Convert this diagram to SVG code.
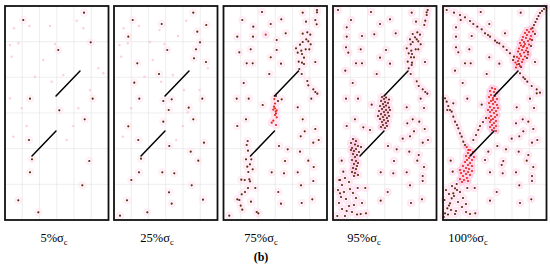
<svg xmlns="http://www.w3.org/2000/svg" xmlns:xlink="http://www.w3.org/1999/xlink" width="550" height="273" viewBox="0 0 550 273">
<style>
.frame{fill:none;stroke:#111;stroke-width:1.8}
.grid{fill:none;stroke:#e2e2e2;stroke-width:0.6}
.crack{fill:none;stroke:#000;stroke-width:1.5;stroke-linecap:round}
.halo{fill:#ffe0f0;stroke:#ffe0f0;stroke-width:6;opacity:0.8}
.halo2{fill:#ffc2e2;stroke:#ffc2e2;stroke-width:5;opacity:0.7}
.brown{fill:#5a2c12}
.red{fill:#e5261b}
.spk{fill:#ffb8e2;opacity:0.7}
.lbl{font-family:"Liberation Serif","Times New Roman",serif;font-size:12.5px;fill:#000;text-anchor:middle}
.sub{font-size:8.5px}
.cap{font-family:"Liberation Serif","Times New Roman",serif;font-size:12px;font-weight:bold;fill:#000;text-anchor:middle}
</style>
<defs>
<path id="gridp" class="grid" d="M17.25,0V214M34.5,0V214M51.75,0V214M69,0V214M86.25,0V214M0,35.67H103.5M0,71.33H103.5M0,107H103.5M0,142.67H103.5M0,178.33H103.5"/>
<path id="crk" class="crack" d="M75,65L51,90M51,125L27,150"/>
<g id="p1b">
<circle cx="84" cy="12.7" r="1.1"/><circle cx="23.3" cy="20" r="1.1"/><circle cx="90.7" cy="42.3" r="1.1"/><circle cx="58.3" cy="50" r="1.1"/><circle cx="30" cy="98.7" r="1.1"/><circle cx="92.7" cy="98.7" r="1.1"/><circle cx="59.3" cy="110.3" r="1.1"/><circle cx="84.7" cy="119.3" r="1.1"/><circle cx="29" cy="140" r="1.1"/><circle cx="32" cy="159.3" r="1.1"/><circle cx="89.3" cy="161" r="1.1"/><circle cx="30" cy="172.3" r="1.1"/><circle cx="82.3" cy="185.3" r="1.1"/><circle cx="18.3" cy="200.3" r="1.1"/><circle cx="38.3" cy="212.3" r="1.1"/>
</g>
<g id="p1s">
<circle cx="14" cy="28.3" r="1.2"/><circle cx="29.3" cy="26" r="1.2"/><circle cx="50" cy="26" r="1.2"/><circle cx="18.3" cy="43.3" r="1.2"/><circle cx="10" cy="45" r="1.2"/><circle cx="11.7" cy="56.7" r="1.2"/><circle cx="43.3" cy="60" r="1.2"/><circle cx="35" cy="76.7" r="1.2"/><circle cx="51.7" cy="81.7" r="1.2"/><circle cx="63.3" cy="75" r="1.2"/><circle cx="98.3" cy="68.3" r="1.2"/><circle cx="103.3" cy="73.3" r="1.2"/><circle cx="90" cy="90" r="1.2"/><circle cx="10" cy="98.3" r="1.2"/><circle cx="21.7" cy="108.3" r="1.2"/><circle cx="78.3" cy="108.3" r="1.2"/><circle cx="26.7" cy="126" r="1.2"/><circle cx="73.3" cy="126" r="1.2"/><circle cx="13.3" cy="136.7" r="1.2"/><circle cx="66.7" cy="140" r="1.2"/><circle cx="76.7" cy="20.7" r="1.2"/><circle cx="83.3" cy="28.3" r="1.2"/><circle cx="55" cy="44" r="1.2"/>
</g>
<g id="p2b">
<circle cx="193.3" cy="12.7" r="1.1"/><circle cx="132.7" cy="20" r="1.1"/><circle cx="161.7" cy="24" r="1.1"/><circle cx="206.3" cy="25" r="1.1"/><circle cx="128.3" cy="36.7" r="1.1"/><circle cx="197.3" cy="31.7" r="1.1"/><circle cx="200" cy="42.3" r="1.1"/><circle cx="167.3" cy="50" r="1.1"/><circle cx="196" cy="49.3" r="1.1"/><circle cx="194" cy="58.3" r="1.1"/><circle cx="137.3" cy="63.3" r="1.1"/><circle cx="206" cy="62" r="1.1"/><circle cx="159" cy="74" r="1.1"/><circle cx="134.3" cy="82.7" r="1.1"/><circle cx="139.3" cy="98.7" r="1.1"/><circle cx="171.7" cy="99.3" r="1.1"/><circle cx="163.3" cy="101" r="1.1"/><circle cx="202.3" cy="98.7" r="1.1"/><circle cx="168.7" cy="110" r="1.1"/><circle cx="188.7" cy="107.7" r="1.1"/><circle cx="193.3" cy="119.3" r="1.1"/><circle cx="163.3" cy="121.7" r="1.1"/><circle cx="128.3" cy="126.3" r="1.1"/><circle cx="138.3" cy="140" r="1.1"/><circle cx="204" cy="142.7" r="1.1"/><circle cx="169.3" cy="146" r="1.1"/><circle cx="190.7" cy="151.7" r="1.1"/><circle cx="141" cy="158.7" r="1.1"/><circle cx="198.3" cy="160.7" r="1.1"/><circle cx="139" cy="172.3" r="1.1"/><circle cx="162.3" cy="172.3" r="1.1"/><circle cx="174.3" cy="173.3" r="1.1"/><circle cx="131.3" cy="180" r="1.1"/><circle cx="191.7" cy="185.3" r="1.1"/><circle cx="169" cy="192.3" r="1.1"/><circle cx="203" cy="199.7" r="1.1"/><circle cx="127" cy="200.3" r="1.1"/><circle cx="171.7" cy="203.7" r="1.1"/><circle cx="147.3" cy="212.3" r="1.1"/><circle cx="120" cy="215.7" r="1.1"/>
</g>
<g id="p2s">
<circle cx="123.5" cy="28.3" r="1.2"/><circle cx="138.8" cy="26" r="1.2"/><circle cx="159.5" cy="30" r="1.2"/><circle cx="127.8" cy="43.3" r="1.2"/><circle cx="119.5" cy="45" r="1.2"/><circle cx="121.2" cy="56.7" r="1.2"/><circle cx="152.8" cy="60" r="1.2"/><circle cx="144.5" cy="76.7" r="1.2"/><circle cx="161.2" cy="81.7" r="1.2"/><circle cx="172.8" cy="75" r="1.2"/><circle cx="207.8" cy="68.3" r="1.2"/><circle cx="199.5" cy="90" r="1.2"/><circle cx="131.2" cy="108.3" r="1.2"/><circle cx="187.8" cy="112.3" r="1.2"/><circle cx="182.8" cy="126" r="1.2"/><circle cx="122.8" cy="136.7" r="1.2"/><circle cx="176.2" cy="140" r="1.2"/><circle cx="186.2" cy="20.7" r="1.2"/><circle cx="164.5" cy="44" r="1.2"/><circle cx="178" cy="36" r="1.2"/><circle cx="150" cy="42" r="1.2"/><circle cx="184" cy="90" r="1.2"/>
</g>
<g id="p3b">
<circle cx="262" cy="12" r="1.1"/><circle cx="302.7" cy="12.7" r="1.1"/><circle cx="317" cy="10" r="1.1"/><circle cx="317" cy="12.3" r="1.1"/><circle cx="242.3" cy="20" r="1.1"/><circle cx="281.3" cy="19.3" r="1.1"/><circle cx="270.7" cy="24" r="1.1"/><circle cx="315.3" cy="20" r="1.1"/><circle cx="306" cy="21.7" r="1.1"/><circle cx="316.7" cy="24.3" r="1.1"/><circle cx="253.3" cy="26.7" r="1.1"/><circle cx="307.3" cy="32.3" r="1.1"/><circle cx="302.7" cy="33.7" r="1.1"/><circle cx="310.3" cy="34.7" r="1.1"/><circle cx="285.7" cy="33.3" r="1.1"/><circle cx="237.3" cy="36.7" r="1.1"/><circle cx="253" cy="36.7" r="1.1"/><circle cx="276.7" cy="40" r="1.1"/><circle cx="306.3" cy="39.3" r="1.1"/><circle cx="308.3" cy="41.3" r="1.1"/><circle cx="302.7" cy="42" r="1.1"/><circle cx="310.7" cy="44.3" r="1.1"/><circle cx="300" cy="44.7" r="1.1"/><circle cx="296" cy="48.3" r="1.1"/><circle cx="305.7" cy="49.3" r="1.1"/><circle cx="301.3" cy="50.7" r="1.1"/><circle cx="309.3" cy="49.3" r="1.1"/><circle cx="250.7" cy="49.3" r="1.1"/><circle cx="239.3" cy="52.3" r="1.1"/><circle cx="276.7" cy="50" r="1.1"/><circle cx="297.7" cy="52.7" r="1.1"/><circle cx="302" cy="54" r="1.1"/><circle cx="304" cy="57.7" r="1.1"/><circle cx="270.7" cy="57.3" r="1.1"/><circle cx="298.7" cy="61.7" r="1.1"/><circle cx="302" cy="62.7" r="1.1"/><circle cx="315.3" cy="62" r="1.1"/><circle cx="246.7" cy="63.3" r="1.1"/><circle cx="252.7" cy="63.3" r="1.1"/><circle cx="281" cy="63.7" r="1.1"/><circle cx="304" cy="64" r="1.1"/><circle cx="299.3" cy="69" r="1.1"/><circle cx="301.7" cy="74" r="1.1"/><circle cx="269.3" cy="74" r="1.1"/><circle cx="307.3" cy="81" r="1.1"/><circle cx="243.7" cy="83" r="1.1"/><circle cx="308.3" cy="85.3" r="1.1"/><circle cx="313.3" cy="89.3" r="1.1"/><circle cx="315.3" cy="92" r="1.1"/><circle cx="317.3" cy="93.7" r="1.1"/><circle cx="236.7" cy="98.7" r="1.1"/><circle cx="248.7" cy="98.7" r="1.1"/><circle cx="311.3" cy="98.7" r="1.1"/><circle cx="281.7" cy="99.3" r="1.1"/><circle cx="262.7" cy="105" r="1.1"/><circle cx="297.7" cy="107.3" r="1.1"/><circle cx="302.7" cy="119.3" r="1.1"/><circle cx="246" cy="119.3" r="1.1"/><circle cx="237.3" cy="126" r="1.1"/><circle cx="315.3" cy="129" r="1.1"/><circle cx="304.7" cy="131.3" r="1.1"/><circle cx="300.7" cy="136.3" r="1.1"/><circle cx="318.7" cy="140" r="1.1"/><circle cx="313.3" cy="142.7" r="1.1"/><circle cx="247.7" cy="141" r="1.1"/><circle cx="246.7" cy="145" r="1.1"/><circle cx="248" cy="150.7" r="1.1"/><circle cx="279" cy="146" r="1.1"/><circle cx="287.7" cy="149.3" r="1.1"/><circle cx="300" cy="151.7" r="1.1"/><circle cx="246" cy="159.3" r="1.1"/><circle cx="251.3" cy="159.3" r="1.1"/><circle cx="250" cy="164.3" r="1.1"/><circle cx="308.3" cy="160.7" r="1.1"/><circle cx="285" cy="161" r="1.1"/><circle cx="247.3" cy="166.7" r="1.1"/><circle cx="252.7" cy="169.3" r="1.1"/><circle cx="313.7" cy="167" r="1.1"/><circle cx="271.7" cy="172.3" r="1.1"/><circle cx="284" cy="173.3" r="1.1"/><circle cx="297.7" cy="172.3" r="1.1"/><circle cx="248.3" cy="172" r="1.1"/><circle cx="241.3" cy="179.7" r="1.1"/><circle cx="244.7" cy="180" r="1.1"/><circle cx="249.3" cy="179.3" r="1.1"/><circle cx="250" cy="181.3" r="1.1"/><circle cx="313.3" cy="181" r="1.1"/><circle cx="301" cy="185.3" r="1.1"/><circle cx="248" cy="188" r="1.1"/><circle cx="255.3" cy="188" r="1.1"/><circle cx="245" cy="192" r="1.1"/><circle cx="241.7" cy="194.3" r="1.1"/><circle cx="278.3" cy="192" r="1.1"/><circle cx="237.3" cy="199.3" r="1.1"/><circle cx="239.3" cy="200" r="1.1"/><circle cx="251" cy="201.7" r="1.1"/><circle cx="312.3" cy="199.3" r="1.1"/><circle cx="301.7" cy="203" r="1.1"/><circle cx="281" cy="203.7" r="1.1"/><circle cx="240.7" cy="205.7" r="1.1"/><circle cx="242.3" cy="209.7" r="1.1"/><circle cx="256.7" cy="212" r="1.1"/><circle cx="258.3" cy="213.3" r="1.1"/><circle cx="229.3" cy="215.7" r="1.1"/><circle cx="276" cy="96" r="1.1"/><circle cx="278" cy="101" r="1.1"/>
</g>
<g id="p3r">
<circle cx="265.7" cy="34.7" r="1.1"/><circle cx="274.3" cy="99" r="1.1"/><circle cx="274" cy="106.7" r="1.1"/><circle cx="275" cy="108.3" r="1.1"/><circle cx="273.3" cy="109.7" r="1.1"/><circle cx="276.7" cy="110.3" r="1.1"/><circle cx="275.7" cy="111.7" r="1.1"/><circle cx="276" cy="113.5" r="1.1"/><circle cx="275" cy="115" r="1.1"/><circle cx="276.7" cy="117.3" r="1.1"/><circle cx="273.3" cy="120.7" r="1.1"/><circle cx="271.7" cy="122.7" r="1.1"/><circle cx="276" cy="125" r="1.1"/><circle cx="275" cy="103.5" r="1.1"/>
</g>
<g id="p4b">
<circle cx="338" cy="10" r="1.1"/><circle cx="371" cy="12" r="1.1"/><circle cx="411.7" cy="12.7" r="1.1"/><circle cx="427.7" cy="10" r="1.1"/><circle cx="426.7" cy="12.3" r="1.1"/><circle cx="426.7" cy="15" r="1.1"/><circle cx="351" cy="20" r="1.1"/><circle cx="390" cy="19.3" r="1.1"/><circle cx="380" cy="24" r="1.1"/><circle cx="425.3" cy="20.7" r="1.1"/><circle cx="416" cy="21.7" r="1.1"/><circle cx="424.3" cy="25" r="1.1"/><circle cx="346.7" cy="27.3" r="1.1"/><circle cx="374.3" cy="34.3" r="1.1"/><circle cx="362" cy="36" r="1.1"/><circle cx="395.7" cy="33.3" r="1.1"/><circle cx="346.7" cy="36.7" r="1.1"/><circle cx="417.3" cy="32.3" r="1.1"/><circle cx="412.7" cy="34" r="1.1"/><circle cx="420" cy="34.7" r="1.1"/><circle cx="415" cy="37.3" r="1.1"/><circle cx="410" cy="39.3" r="1.1"/><circle cx="416.7" cy="39.3" r="1.1"/><circle cx="418.3" cy="41.3" r="1.1"/><circle cx="412.7" cy="42" r="1.1"/><circle cx="410.7" cy="44.3" r="1.1"/><circle cx="420.7" cy="44.3" r="1.1"/><circle cx="406.7" cy="48.3" r="1.1"/><circle cx="415.7" cy="49.3" r="1.1"/><circle cx="411.3" cy="50.7" r="1.1"/><circle cx="418.3" cy="49.3" r="1.1"/><circle cx="346" cy="47.3" r="1.1"/><circle cx="360.7" cy="49.3" r="1.1"/><circle cx="348.3" cy="52.7" r="1.1"/><circle cx="386" cy="50" r="1.1"/><circle cx="408.7" cy="53.3" r="1.1"/><circle cx="412" cy="54" r="1.1"/><circle cx="411" cy="57.3" r="1.1"/><circle cx="414" cy="57.3" r="1.1"/><circle cx="380" cy="57.7" r="1.1"/><circle cx="407.7" cy="61.7" r="1.1"/><circle cx="412" cy="62.7" r="1.1"/><circle cx="425" cy="62" r="1.1"/><circle cx="356" cy="63.3" r="1.1"/><circle cx="362" cy="63.3" r="1.1"/><circle cx="390" cy="63.7" r="1.1"/><circle cx="411.7" cy="65" r="1.1"/><circle cx="408.7" cy="68.3" r="1.1"/><circle cx="345.3" cy="70.7" r="1.1"/><circle cx="410.7" cy="74" r="1.1"/><circle cx="376.7" cy="74" r="1.1"/><circle cx="416.7" cy="81.3" r="1.1"/><circle cx="352.7" cy="83" r="1.1"/><circle cx="418.7" cy="86" r="1.1"/><circle cx="422.7" cy="89.3" r="1.1"/><circle cx="425.3" cy="92" r="1.1"/><circle cx="427.3" cy="93.7" r="1.1"/><circle cx="346" cy="98.7" r="1.1"/><circle cx="358" cy="98.7" r="1.1"/><circle cx="420.7" cy="98.7" r="1.1"/><circle cx="371.7" cy="104.7" r="1.1"/><circle cx="406.7" cy="107.3" r="1.1"/><circle cx="424" cy="108" r="1.1"/>
<circle cx="382" cy="97" r="1.1"/><circle cx="386" cy="97.5" r="1.1"/><circle cx="389" cy="99.5" r="1.1"/><circle cx="381" cy="101" r="1.1"/><circle cx="388" cy="103" r="1.1"/><circle cx="383" cy="104" r="1.1"/><circle cx="380" cy="106" r="1.1"/><circle cx="389" cy="107.5" r="1.1"/><circle cx="382" cy="109" r="1.1"/><circle cx="379" cy="111" r="1.1"/><circle cx="388" cy="112.5" r="1.1"/><circle cx="381" cy="114" r="1.1"/><circle cx="389" cy="116" r="1.1"/><circle cx="387" cy="118" r="1.1"/><circle cx="380" cy="119" r="1.1"/><circle cx="388" cy="121" r="1.1"/><circle cx="382" cy="122" r="1.1"/><circle cx="383" cy="125" r="1.1"/><circle cx="387" cy="126" r="1.1"/><circle cx="385" cy="128" r="1.1"/><circle cx="390" cy="110" r="1.1"/><circle cx="378" cy="116" r="1.1"/>
<circle cx="346.7" cy="126" r="1.1"/><circle cx="355" cy="119.3" r="1.1"/><circle cx="363.3" cy="127.3" r="1.1"/><circle cx="370" cy="130" r="1.1"/><circle cx="407.3" cy="123.3" r="1.1"/><circle cx="412.7" cy="119.3" r="1.1"/><circle cx="419.3" cy="121.7" r="1.1"/><circle cx="424.7" cy="129" r="1.1"/><circle cx="414" cy="131.3" r="1.1"/><circle cx="410" cy="136.3" r="1.1"/><circle cx="402.7" cy="138.7" r="1.1"/><circle cx="428" cy="140" r="1.1"/><circle cx="422.7" cy="142.7" r="1.1"/><circle cx="388" cy="146" r="1.1"/><circle cx="396.7" cy="149.3" r="1.1"/><circle cx="409.3" cy="151.7" r="1.1"/><circle cx="341.7" cy="160.7" r="1.1"/><circle cx="394" cy="161" r="1.1"/><circle cx="418.7" cy="155" r="1.1"/><circle cx="417.3" cy="160.7" r="1.1"/><circle cx="424" cy="167" r="1.1"/><circle cx="343.3" cy="171.7" r="1.1"/><circle cx="380.7" cy="172.3" r="1.1"/><circle cx="393.3" cy="173.3" r="1.1"/><circle cx="406.7" cy="172.3" r="1.1"/><circle cx="422.7" cy="176" r="1.1"/><circle cx="422.7" cy="181" r="1.1"/><circle cx="339.3" cy="180" r="1.1"/><circle cx="410" cy="185.3" r="1.1"/><circle cx="357.7" cy="188" r="1.1"/><circle cx="365.3" cy="188" r="1.1"/><circle cx="387.7" cy="192" r="1.1"/><circle cx="340" cy="193.3" r="1.1"/><circle cx="380.7" cy="200.7" r="1.1"/><circle cx="411" cy="203" r="1.1"/><circle cx="422" cy="199.3" r="1.1"/><circle cx="337.3" cy="216" r="1.1"/><circle cx="366" cy="213.3" r="1.1"/><circle cx="360.7" cy="214" r="1.1"/><circle cx="346.7" cy="211" r="1.1"/>
<circle cx="353" cy="139" r="1.1"/><circle cx="351" cy="143" r="1.1"/><circle cx="358" cy="146" r="1.1"/><circle cx="356" cy="149" r="1.1"/><circle cx="359" cy="152" r="1.1"/><circle cx="357" cy="155" r="1.1"/><circle cx="352" cy="160" r="1.1"/><circle cx="358" cy="163" r="1.1"/><circle cx="357" cy="166" r="1.1"/><circle cx="356" cy="169" r="1.1"/><circle cx="352" cy="172" r="1.1"/><circle cx="358" cy="175" r="1.1"/><circle cx="354" cy="176" r="1.1"/><circle cx="351" cy="150" r="1.1"/><circle cx="361" cy="147" r="1.1"/>
<circle cx="340" cy="180" r="1.1"/><circle cx="345" cy="178" r="1.1"/><circle cx="349" cy="182" r="1.1"/><circle cx="342" cy="185" r="1.1"/><circle cx="350" cy="189" r="1.1"/><circle cx="338" cy="190" r="1.1"/><circle cx="344" cy="192" r="1.1"/><circle cx="353" cy="193" r="1.1"/><circle cx="341" cy="197" r="1.1"/><circle cx="346" cy="199" r="1.1"/><circle cx="356" cy="198" r="1.1"/><circle cx="339" cy="203" r="1.1"/><circle cx="349" cy="206" r="1.1"/><circle cx="354" cy="205" r="1.1"/><circle cx="342" cy="209" r="1.1"/><circle cx="352" cy="212" r="1.1"/><circle cx="357" cy="214.5" r="1.1"/><circle cx="345" cy="216" r="1.1"/><circle cx="362" cy="203" r="1.1"/>
</g>
<g id="p4r">
<circle cx="384" cy="99" r="1.1"/><circle cx="385" cy="102" r="1.1"/><circle cx="386" cy="105.5" r="1.1"/><circle cx="384" cy="107" r="1.1"/><circle cx="386" cy="110" r="1.1"/><circle cx="384" cy="112" r="1.1"/><circle cx="385" cy="115" r="1.1"/><circle cx="383" cy="117" r="1.1"/><circle cx="384" cy="120" r="1.1"/><circle cx="386" cy="123" r="1.1"/><circle cx="381" cy="127" r="1.1"/>
<circle cx="356" cy="141" r="1.1"/><circle cx="355" cy="144.5" r="1.1"/><circle cx="352" cy="148" r="1.1"/><circle cx="354" cy="151" r="1.1"/><circle cx="353" cy="154" r="1.1"/><circle cx="355" cy="157" r="1.1"/><circle cx="356" cy="161" r="1.1"/><circle cx="354" cy="164" r="1.1"/><circle cx="353" cy="168" r="1.1"/><circle cx="355" cy="173" r="1.1"/>
</g>
<g id="p5b">
<circle cx="480.7" cy="12" r="1.1"/><circle cx="520.7" cy="12.7" r="1.1"/><circle cx="460.7" cy="20" r="1.1"/><circle cx="489.3" cy="24" r="1.1"/><circle cx="456" cy="27.3" r="1.1"/><circle cx="505" cy="33.3" r="1.1"/><circle cx="471.7" cy="36" r="1.1"/><circle cx="456" cy="36.7" r="1.1"/><circle cx="456" cy="47.3" r="1.1"/><circle cx="469.3" cy="49.3" r="1.1"/><circle cx="458.3" cy="52.3" r="1.1"/><circle cx="489.3" cy="57.3" r="1.1"/><circle cx="465" cy="63.3" r="1.1"/><circle cx="470.7" cy="63.3" r="1.1"/><circle cx="499.3" cy="63.7" r="1.1"/><circle cx="535" cy="62" r="1.1"/><circle cx="455" cy="70.7" r="1.1"/><circle cx="486.7" cy="74" r="1.1"/><circle cx="462.7" cy="83" r="1.1"/><circle cx="530" cy="98.7" r="1.1"/><circle cx="467.3" cy="98.7" r="1.1"/><circle cx="481.7" cy="104.7" r="1.1"/><circle cx="516.7" cy="107.3" r="1.1"/><circle cx="534" cy="108" r="1.1"/>
<circle cx="446.7" cy="10" r="1.1"/><circle cx="454" cy="12.7" r="1.1"/><circle cx="460" cy="15" r="1.1"/><circle cx="465" cy="17.3" r="1.1"/><circle cx="470" cy="21" r="1.1"/><circle cx="473.3" cy="24" r="1.1"/><circle cx="477.3" cy="26.7" r="1.1"/><circle cx="481.7" cy="29.3" r="1.1"/><circle cx="485" cy="33.3" r="1.1"/><circle cx="490" cy="36.7" r="1.1"/><circle cx="495" cy="40.7" r="1.1"/><circle cx="499.3" cy="43.3" r="1.1"/><circle cx="503.3" cy="46.7" r="1.1"/><circle cx="506.7" cy="50" r="1.1"/><circle cx="510" cy="53.3" r="1.1"/><circle cx="514" cy="56.7" r="1.1"/><circle cx="497" cy="42.5" r="1.1"/><circle cx="488" cy="35" r="1.1"/>
<circle cx="520" cy="73.3" r="1.1"/><circle cx="523.3" cy="77.3" r="1.1"/><circle cx="527.3" cy="81.7" r="1.1"/><circle cx="531.7" cy="86" r="1.1"/><circle cx="536.7" cy="89.3" r="1.1"/><circle cx="540" cy="92.7" r="1.1"/><circle cx="536.7" cy="93.3" r="1.1"/><circle cx="525" cy="79" r="1.1"/>
<circle cx="546" cy="7" r="1.1"/><circle cx="544" cy="9" r="1.1"/><circle cx="542" cy="11" r="1.1"/><circle cx="540" cy="13" r="1.1"/><circle cx="538.5" cy="16" r="1.1"/><circle cx="537" cy="19" r="1.1"/><circle cx="535.5" cy="22" r="1.1"/><circle cx="534" cy="25" r="1.1"/><circle cx="532.5" cy="28" r="1.1"/>
<circle cx="445" cy="98.3" r="1.1"/><circle cx="446.7" cy="101.7" r="1.1"/><circle cx="448.3" cy="106" r="1.1"/><circle cx="450" cy="110" r="1.1"/><circle cx="451.7" cy="111.7" r="1.1"/><circle cx="453.3" cy="116.7" r="1.1"/><circle cx="455" cy="121.7" r="1.1"/><circle cx="457" cy="125" r="1.1"/><circle cx="458.3" cy="128.3" r="1.1"/><circle cx="460" cy="133.3" r="1.1"/><circle cx="461.7" cy="136.7" r="1.1"/><circle cx="463.3" cy="141.7" r="1.1"/><circle cx="465" cy="145" r="1.1"/><circle cx="453.3" cy="103.3" r="1.1"/><circle cx="447.3" cy="110" r="1.1"/>
<circle cx="486" cy="118" r="1.1"/><circle cx="483" cy="122" r="1.1"/><circle cx="480" cy="126" r="1.1"/><circle cx="478.3" cy="130" r="1.1"/><circle cx="476" cy="135" r="1.1"/><circle cx="473.3" cy="140" r="1.1"/>
<circle cx="516" cy="123.3" r="1.1"/><circle cx="522.7" cy="119.3" r="1.1"/><circle cx="528.3" cy="121.7" r="1.1"/><circle cx="533.3" cy="129" r="1.1"/><circle cx="523.3" cy="131.3" r="1.1"/><circle cx="519.3" cy="136.3" r="1.1"/><circle cx="511.7" cy="138.7" r="1.1"/><circle cx="537.3" cy="140" r="1.1"/><circle cx="532" cy="142.7" r="1.1"/><circle cx="497.3" cy="146" r="1.1"/><circle cx="506" cy="149.3" r="1.1"/><circle cx="518.7" cy="151.7" r="1.1"/><circle cx="450.7" cy="160.7" r="1.1"/><circle cx="503.3" cy="161" r="1.1"/><circle cx="528.3" cy="155" r="1.1"/><circle cx="526.7" cy="160.7" r="1.1"/><circle cx="533.3" cy="167" r="1.1"/><circle cx="452.7" cy="171.7" r="1.1"/><circle cx="490" cy="172.3" r="1.1"/><circle cx="502.7" cy="173.3" r="1.1"/><circle cx="516" cy="172.3" r="1.1"/><circle cx="532" cy="176" r="1.1"/><circle cx="532" cy="181" r="1.1"/><circle cx="519.3" cy="185.3" r="1.1"/><circle cx="467.3" cy="188" r="1.1"/><circle cx="474.7" cy="188" r="1.1"/><circle cx="496.7" cy="192" r="1.1"/><circle cx="490" cy="200.7" r="1.1"/><circle cx="520" cy="203" r="1.1"/><circle cx="531.3" cy="199.3" r="1.1"/><circle cx="475.3" cy="213.3" r="1.1"/><circle cx="470" cy="214" r="1.1"/><circle cx="456" cy="211" r="1.1"/><circle cx="488.3" cy="151.7" r="1.1"/><circle cx="485" cy="160" r="1.1"/><circle cx="501.7" cy="165" r="1.1"/>
<circle cx="456.7" cy="184" r="1.1"/><circle cx="455" cy="188.3" r="1.1"/><circle cx="453.3" cy="193.3" r="1.1"/><circle cx="451.7" cy="198.3" r="1.1"/><circle cx="450" cy="203.3" r="1.1"/><circle cx="447.3" cy="208.3" r="1.1"/><circle cx="445" cy="213.3" r="1.1"/><circle cx="443.8" cy="217" r="1.1"/><circle cx="449" cy="205.5" r="1.1"/><circle cx="454" cy="196" r="1.1"/><circle cx="451" cy="210" r="1.1"/><circle cx="457" cy="190" r="1.1"/><circle cx="446" cy="190" r="1.1"/><circle cx="449" cy="194" r="1.1"/><circle cx="460" cy="192" r="1.1"/><circle cx="463" cy="198" r="1.1"/><circle cx="458" cy="202" r="1.1"/><circle cx="462" cy="207" r="1.1"/><circle cx="455" cy="214" r="1.1"/><circle cx="466" cy="212" r="1.1"/><circle cx="448" cy="214.5" r="1.1"/><circle cx="444.5" cy="200" r="1.1"/><circle cx="466" cy="204" r="1.1"/><circle cx="452" cy="186" r="1.1"/>
<circle cx="519" cy="64" r="1.1"/><circle cx="521" cy="67" r="1.1"/><circle cx="535" cy="34" r="1.1"/><circle cx="532" cy="40" r="1.1"/><circle cx="531" cy="46" r="1.1"/><circle cx="528" cy="52" r="1.1"/><circle cx="527" cy="58" r="1.1"/><circle cx="513" cy="60" r="1.1"/>
</g>
<g id="p5r">
<circle cx="531" cy="29" r="1.1"/><circle cx="527" cy="30" r="1.1"/><circle cx="529" cy="32" r="1.1"/><circle cx="533" cy="31.5" r="1.1"/><circle cx="525" cy="33" r="1.1"/><circle cx="527" cy="35" r="1.1"/><circle cx="531" cy="36" r="1.1"/><circle cx="523" cy="37" r="1.1"/><circle cx="526" cy="38" r="1.1"/><circle cx="530" cy="39" r="1.1"/><circle cx="522" cy="40" r="1.1"/><circle cx="528" cy="41" r="1.1"/><circle cx="524" cy="42" r="1.1"/><circle cx="520" cy="43" r="1.1"/><circle cx="525" cy="44" r="1.1"/><circle cx="529" cy="44.5" r="1.1"/><circle cx="521" cy="45.5" r="1.1"/><circle cx="523" cy="47" r="1.1"/><circle cx="527" cy="48" r="1.1"/><circle cx="519" cy="48.5" r="1.1"/><circle cx="522" cy="50" r="1.1"/><circle cx="526" cy="50.5" r="1.1"/><circle cx="518" cy="51.5" r="1.1"/><circle cx="524" cy="52.5" r="1.1"/><circle cx="520" cy="54" r="1.1"/><circle cx="528" cy="54.5" r="1.1"/><circle cx="521" cy="56" r="1.1"/><circle cx="525" cy="56.5" r="1.1"/><circle cx="517" cy="57" r="1.1"/><circle cx="519" cy="58.5" r="1.1"/><circle cx="523" cy="59.5" r="1.1"/><circle cx="518" cy="61" r="1.1"/><circle cx="522" cy="62" r="1.1"/><circle cx="515.5" cy="62.5" r="1.1"/><circle cx="517" cy="64.5" r="1.1"/><circle cx="520" cy="66" r="1.1"/><circle cx="516" cy="67.5" r="1.1"/><circle cx="524" cy="46" r="1.1"/>
<circle cx="492" cy="88" r="1.1"/><circle cx="495" cy="89" r="1.1"/><circle cx="490" cy="91" r="1.1"/><circle cx="494" cy="92" r="1.1"/><circle cx="497" cy="93" r="1.1"/><circle cx="491" cy="95" r="1.1"/><circle cx="495" cy="96" r="1.1"/><circle cx="489" cy="97" r="1.1"/><circle cx="493" cy="98" r="1.1"/><circle cx="497" cy="99" r="1.1"/><circle cx="491" cy="101" r="1.1"/><circle cx="495" cy="102" r="1.1"/><circle cx="489" cy="103" r="1.1"/><circle cx="493" cy="104" r="1.1"/><circle cx="497" cy="105" r="1.1"/><circle cx="490" cy="107" r="1.1"/><circle cx="494" cy="108" r="1.1"/><circle cx="492" cy="110" r="1.1"/><circle cx="496" cy="111" r="1.1"/><circle cx="490" cy="112" r="1.1"/><circle cx="494" cy="113" r="1.1"/><circle cx="497" cy="115" r="1.1"/><circle cx="491" cy="116" r="1.1"/><circle cx="495" cy="117" r="1.1"/><circle cx="489" cy="118" r="1.1"/><circle cx="493" cy="119" r="1.1"/><circle cx="496" cy="121" r="1.1"/><circle cx="490" cy="122" r="1.1"/><circle cx="494" cy="123" r="1.1"/><circle cx="492" cy="125" r="1.1"/><circle cx="496" cy="126" r="1.1"/><circle cx="490" cy="127" r="1.1"/><circle cx="494" cy="128" r="1.1"/><circle cx="492" cy="130" r="1.1"/><circle cx="496" cy="131" r="1.1"/><circle cx="498" cy="108" r="1.1"/><circle cx="488" cy="110" r="1.1"/><circle cx="493" cy="100" r="1.1"/><circle cx="491" cy="120" r="1.1"/>
<circle cx="470" cy="150" r="1.1"/><circle cx="473" cy="152" r="1.1"/><circle cx="468" cy="153" r="1.1"/><circle cx="471" cy="155" r="1.1"/><circle cx="466" cy="156" r="1.1"/><circle cx="474" cy="157" r="1.1"/><circle cx="469" cy="158" r="1.1"/><circle cx="467" cy="160" r="1.1"/><circle cx="472" cy="160" r="1.1"/><circle cx="465" cy="162" r="1.1"/><circle cx="470" cy="163" r="1.1"/><circle cx="468" cy="165" r="1.1"/><circle cx="463" cy="166" r="1.1"/><circle cx="472" cy="166" r="1.1"/><circle cx="466" cy="168" r="1.1"/><circle cx="469" cy="169" r="1.1"/><circle cx="464" cy="171" r="1.1"/><circle cx="468" cy="172" r="1.1"/><circle cx="461" cy="173" r="1.1"/><circle cx="466" cy="174" r="1.1"/><circle cx="470" cy="175" r="1.1"/><circle cx="463" cy="176" r="1.1"/><circle cx="467" cy="178" r="1.1"/><circle cx="460" cy="179" r="1.1"/><circle cx="464" cy="180" r="1.1"/><circle cx="462" cy="182" r="1.1"/><circle cx="468" cy="181" r="1.1"/><circle cx="472" cy="171" r="1.1"/><circle cx="460" cy="170" r="1.1"/><circle cx="466.7" cy="147" r="1.1"/><circle cx="468.3" cy="150" r="1.1"/>
</g>
</defs>

<g id="panel-5pct">
<use href="#gridp" x="5" y="6"/>
<use href="#p1s" class="spk"/>
<use href="#p1b" class="halo" style="opacity:.5"/>
<use href="#p1b" class="brown"/>
<use href="#crk" x="5" y="6"/>
<rect class="frame" x="5" y="6" width="103.5" height="214"/>
</g>
<g id="panel-25pct">
<use href="#gridp" x="114" y="6"/>
<use href="#p2s" class="spk"/>
<use href="#p2b" class="halo" style="opacity:.5"/>
<use href="#p2b" class="brown"/>
<use href="#crk" x="114" y="6"/>
<rect class="frame" x="114" y="6" width="103.5" height="214"/>
</g>
<g id="panel-75pct">
<use href="#gridp" x="223.5" y="6"/>
<use href="#p3b" class="halo" style="opacity:.6"/>
<use href="#p3r" class="halo"/>
<use href="#p3b" class="brown"/>
<use href="#p3r" class="red"/>
<use href="#crk" x="223.5" y="6"/>
<rect class="frame" x="223.5" y="6" width="103.5" height="214"/>
</g>
<g id="panel-95pct">
<use href="#gridp" x="333" y="6"/>
<use href="#p4b" class="halo"/>
<use href="#p4r" class="halo2"/>
<use href="#p4b" class="brown"/>
<use href="#p4r" class="brown"/>
<use href="#crk" x="333" y="6"/>
<rect class="frame" x="333" y="6" width="103.5" height="214"/>
</g>
<g id="panel-100pct">
<use href="#gridp" x="443" y="6"/>
<use href="#p5b" class="halo"/>
<use href="#p5r" class="halo2"/>
<use href="#p5b" class="brown"/>
<use href="#p5r" class="red"/>
<use href="#crk" x="443" y="6"/>
<rect class="frame" x="443" y="6" width="103.5" height="214"/>
</g>

<g id="labels">
<text class="lbl" x="54" y="242">5%σ<tspan class="sub" dy="2.5">c</tspan></text>
<text class="lbl" x="157" y="242">25%σ<tspan class="sub" dy="2.5">c</tspan></text>
<text class="lbl" x="261" y="242">75%σ<tspan class="sub" dy="2.5">c</tspan></text>
<text class="lbl" x="364" y="242">95%σ<tspan class="sub" dy="2.5">c</tspan></text>
<text class="lbl" x="468" y="242">100%σ<tspan class="sub" dy="2.5">c</tspan></text>
<text class="cap" x="261" y="261">(b)</text>
</g>
</svg>
